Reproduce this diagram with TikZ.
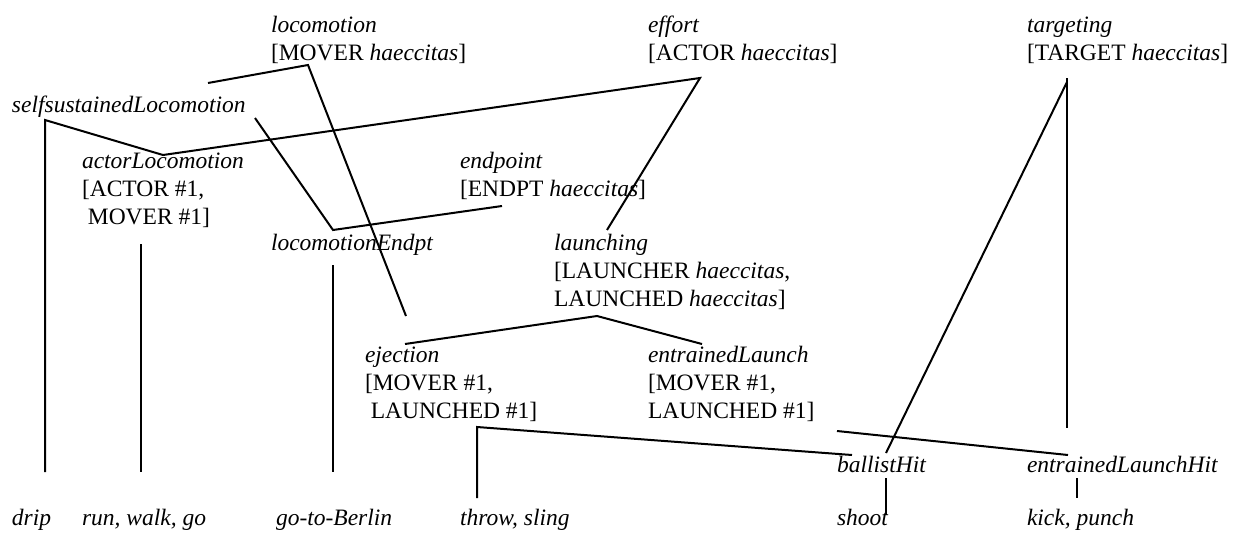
\documentclass[tikz,border=0pt]{standalone}
\usepackage{fontspec}
\setmainfont{Liberation Serif}
\begin{document}
\begin{tikzpicture}[x=1pt,y=-1pt,
  % labels are placed by the baseline of their last line
  lbl/.style={anchor=base west, inner sep=0pt, outer sep=0pt, align=left,
              font=\fontsize{23.5}{28}\selectfont},
  link/.style={line width=2pt, line join=miter}]
\useasboundingbox (0,0) rectangle (1241,533);

% feature-structure labels
\node[lbl] (loc)   at (271,60)  {\textit{locomotion}\\{}[MOVER \textit{haeccitas}]};
\node[lbl] (eff)   at (648,60)  {\textit{effort}\\{}[ACTOR \textit{haeccitas}]};
\node[lbl] (tgt)   at (1027,60) {\textit{targeting}\\{}[TARGET \textit{haeccitas}]};
\node[lbl] (ssl)   at (12,112)  {\textit{selfsustainedLocomotion}};
\node[lbl] (actl)  at (82,224)  {\textit{actorLocomotion}\\{}[ACTOR \#1,\\\hspace{.25em}MOVER \#1]};
\node[lbl] (endp)  at (460,196) {\textit{endpoint}\\{}[ENDPT \textit{haeccitas}]};
\node[lbl] (locend) at (271,250) {\textit{locomotionEndpt}};
\node[lbl] (lau)   at (554,306) {\textit{launching}\\{}[LAUNCHER \textit{haeccitas},\\LAUNCHED \textit{haeccitas}]};
\node[lbl] (ej)    at (365,418) {\textit{ejection}\\{}[MOVER \#1,\\\hspace{.25em}LAUNCHED \#1]};
\node[lbl] (entl)  at (648,418) {\textit{entrainedLaunch}\\{}[MOVER \#1,\\LAUNCHED \#1]};
\node[lbl] (bh)    at (837,472) {\textit{ballistHit}};
\node[lbl] (elh)   at (1027,472) {\textit{entrainedLaunchHit}};

% verbs
\node[lbl] (drip)   at (12,525)  {\textit{drip}};
\node[lbl] (run)    at (82,525)  {\textit{run, walk, go}};
\node[lbl] (berlin) at (276,525) {\textit{go-to-Berlin}};
\node[lbl] (throw)  at (460,525) {\textit{throw, sling}};
\node[lbl] (shoot)  at (837,525) {\textit{shoot}};
\node[lbl] (kick)   at (1027,525) {\textit{kick, punch}};

% joints of the hierarchy lines
\coordinate (locL)  at (208,83);
\coordinate (locT)  at (308,65);
\coordinate (ejA)   at (406,316);
\coordinate (sslT)  at (45,120);
\coordinate (sslB)  at (45,472);
\coordinate (actT)  at (163,155);
\coordinate (effT)  at (700,78);
\coordinate (lauA)  at (607,230);
\coordinate (sslR)  at (255,118);
\coordinate (leT)   at (333,230);
\coordinate (endB)  at (502,206);
\coordinate (actB1) at (141,244);
\coordinate (actB2) at (141,472);
\coordinate (leB1)  at (333,265);
\coordinate (leB2)  at (333,472);
\coordinate (lauL)  at (405,344);
\coordinate (lauT)  at (597,316);
\coordinate (lauR)  at (702,344);
\coordinate (ejB2)  at (477,498);
\coordinate (ejB1)  at (477,427);
\coordinate (bhT)   at (852,455);
\coordinate (entB)  at (837,431);
\coordinate (elhT)  at (1068,455);
\coordinate (tgtT)  at (1067,78);
\coordinate (tgtD)  at (1067,82);
\coordinate (tgtB)  at (1067,428);
\coordinate (bhA)   at (886,453);
\coordinate (bhB1)  at (886,478);
\coordinate (bhB2)  at (886,515);
\coordinate (elB1)  at (1077,478);
\coordinate (elB2)  at (1077,498);

% hierarchy lines
\draw[link] (locL) -- (locT) -- (ejA);
\draw[link] (sslB) -- (sslT) -- (actT);
\draw[link] (actT) -- (effT) -- (lauA);
\draw[link] (sslR) -- (leT) -- (endB);
\draw[link] (actB1) -- (actB2);
\draw[link] (leB1) -- (leB2);
\draw[link] (lauL) -- (lauT) -- (lauR);
\draw[link] (ejB2) -- (ejB1) -- (bhT);
\draw[link] (entB) -- (elhT);
\draw[link] (tgtT) -- (tgtB);
\draw[link] (tgtD) -- (bhA);
\draw[link] (bhB1) -- (bhB2);
\draw[link] (elB1) -- (elB2);
\end{tikzpicture}
\end{document}
